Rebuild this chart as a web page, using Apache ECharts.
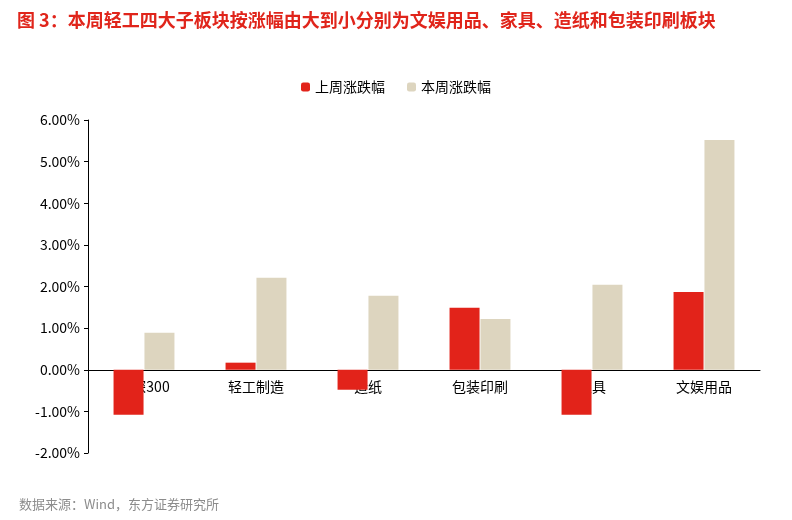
<!DOCTYPE html>
<html><head><meta charset="utf-8">
<script src="https://cdn.jsdelivr.net/npm/echarts@6/dist/echarts.min.js"></script>
<style>html,body{margin:0;padding:0;background:#fff}#main{width:792px;height:520px}</style>
</head><body><div id="main"></div>
<script>
var categories = ['沪深300', '轻工制造', '造纸', '包装印刷', '家具', '文娱用品'];
var lastWeek = [-1.08, 0.17, -0.48, 1.49, -1.08, 1.87];
var thisWeek = [0.89, 2.21, 1.78, 1.22, 2.04, 5.52];

var myChart = echarts.init(document.getElementById('main'));
var font = '"Noto Sans CJK SC", sans-serif';
myChart.setOption({
    animation: false,
    textStyle: { fontFamily: font },
    title: [{
        text: '图 3：本周轻工四大子板块按涨幅由大到小分别为文娱用品、家具、造纸和包装印刷板块',
        left: 12, top: 6,
        textStyle: { color: '#e0251b', fontSize: 18, fontWeight: 'bold', fontFamily: font }
    }, {
        text: '数据来源：Wind，东方证券研究所',
        left: 14, bottom: 4,
        textStyle: { color: '#8c8c8c', fontSize: 13, fontWeight: 'normal', fontFamily: font }
    }],
    legend: {
        top: 75, left: 'center', itemWidth: 9, itemHeight: 9, itemGap: 22,
        textStyle: { fontSize: 14, color: '#000' },
        data: ['上周涨跌幅', '本周涨跌幅']
    },
    grid: { left: 88, right: 32, top: 120, bottom: 67 },
    xAxis: {
        type: 'category', data: categories, offset: -83,
        axisLine: { onZero: false, lineStyle: { color: '#000' } },
        axisTick: { show: false },
        axisLabel: { color: '#000', fontSize: 14, margin: 10 }
    },
    yAxis: {
        type: 'value', min: -2, max: 6, interval: 1,
        axisLine: { show: true, lineStyle: { color: '#000' } },
        axisTick: { show: true, inside: false, length: 4 },
        splitLine: { show: false },
        axisLabel: { color: '#000', fontSize: 14, formatter: function (v) { return v.toFixed(2) + '%'; } }
    },
    series: [{
        name: '上周涨跌幅', type: 'bar', data: lastWeek, barWidth: 30, barGap: '3%',
        itemStyle: { color: '#e2231a' }
    }, {
        name: '本周涨跌幅', type: 'bar', data: thisWeek, barWidth: 30,
        itemStyle: { color: '#ddd5bf' }
    }]
});
</script></body></html>
